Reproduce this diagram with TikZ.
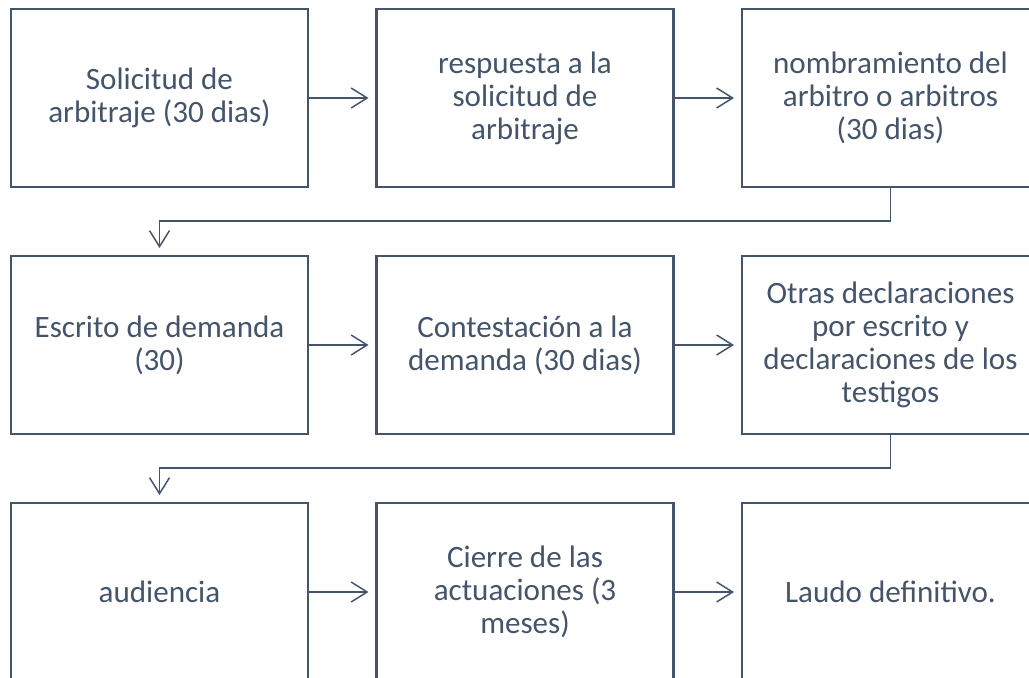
\documentclass[tikz,border=0pt]{standalone}
\usepackage{fontspec}
\setmainfont{Carlito}
\usetikzlibrary{arrows.meta}
\definecolor{slate}{HTML}{44546A}
\begin{document}
\begin{tikzpicture}[x=0.75pt,y=-0.75pt,
  box/.style={draw=slate,line width=1.9pt,minimum width=222.75pt,minimum height=133.5pt,
    inner sep=0pt,outer sep=0pt,align=center,text=slate,
    font=\fontsize{23.3}{24.75}\selectfont},
  conn/.style={draw=slate,line width=1.1pt,
    -{Straight Barb[length=12pt,width=15pt,line width=1.1pt]},shorten >=6pt}]
\useasboundingbox (0,0) rectangle (1029,678);
\clip (0,0) rectangle (1029,678);
\node[box] (b1) at (159.5,98) {Solicitud de\\arbitraje (30 dias)};
\node[box] (b2) at (525,98) {respuesta a la\\solicitud de\\arbitraje};
\node[box] (b3) at (890.5,98) {nombramiento del\\arbitro o arbitros\\(30 dias)};
\node[box] (b4) at (159.5,345) {Escrito de demanda\\(30)};
\node[box] (b5) at (525,345) {Contestación a la\\demanda (30 dias)};
\node[box] (b6) at (890.5,345) {Otras declaraciones\\por escrito y\\declaraciones de los\\testigos};
\node[box] (b7) at (159.5,592) {audiencia};
\node[box] (b8) at (525,592) {Cierre de las\\actuaciones (3\\meses)};
\node[box] (b9) at (890.5,592) {Laudo definitivo.};
\draw[conn] (b1) -- (b2);
\draw[conn] (b2) -- (b3);
\draw[conn] (b4) -- (b5);
\draw[conn] (b5) -- (b6);
\draw[conn] (b7) -- (b8);
\draw[conn] (b8) -- (b9);
\draw[conn] (b3.south) -- ++(0,34) -| (b4.north);
\draw[conn] (b6.south) -- ++(0,34) -| (b7.north);
\end{tikzpicture}
\end{document}
